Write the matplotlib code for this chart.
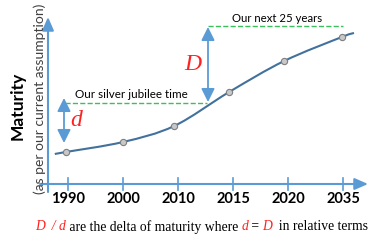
# %% maturity.py
#   sketch of the "maturity over time" slide chart
import numpy as np
import matplotlib.pyplot as plt
from matplotlib.path import Path
from matplotlib.patches import PathPatch

# %% Data (x in tick steps: 1990=0, 2000=1, ...; y in arbitrary maturity units)
years = ["1990", "2000", "2010", "2015", "2020", "2035"]
point_x = [-0.04, 1.0, 1.93, 2.93, 3.93, 4.98]
point_y = [32, 42, 58, 92, 123, 147]
curve_start = (-0.24, 30)
curve_end = (5.2, 151)
jubilee_level = 81
next25_level = 158

BLUE = "#5B9BD5"
LINE = "#41719C"
GREEN = "#3CC05E"
RED = "#FF2020"
SANS = ["Lato", "DejaVu Sans"]
SERIF = ["Liberation Serif", "DejaVu Serif"]


def px(x, y):  # slide pixel -> data coords, only for decorations
    return (x - 68) / 55, 184 - y


def smooth_path(xs, ys):  # catmull-rom through the points, as bezier segments
    p = np.column_stack([xs, ys]).astype(float)
    q = np.vstack([p[0], p, p[-1]])
    verts, codes = [p[0]], [Path.MOVETO]
    for i in range(1, len(q) - 2):
        c1 = q[i] + (q[i + 1] - q[i - 1]) / 6
        c2 = q[i + 1] - (q[i + 2] - q[i]) / 6
        verts += [c1, c2, q[i + 1]]
        codes += [Path.CURVE4] * 3
    return Path(verts, codes)


# %% Figure
fig = plt.figure(figsize=(3.86, 2.44), dpi=100)
ax = fig.add_axes([0, 0, 1, 1])
ax.set_xlim(-68 / 55, 318 / 55)
ax.set_ylim(-60, 184)
ax.axis("off")

# axes with arrow heads
arrow = dict(arrowstyle="-|>,head_length=0.8,head_width=0.35", color=BLUE, lw=1.5,
             shrinkA=0, shrinkB=0, mutation_scale=10)
ax.annotate("", xy=px(368, 184), xytext=px(40, 184), arrowprops=arrow)
ax.annotate("", xy=px(48, 17), xytext=px(48, 192), arrowprops=arrow)

for i, y in enumerate(years):
    ax.plot([i, i], [6, -6], color=BLUE, lw=1.2)
    ax.text(i, -15, y, ha="center", va="center", fontweight="bold", fontsize=10.5, family=SANS)

# curve and markers
xs = [curve_start[0]] + point_x + [curve_end[0]]
ys = [curve_start[1]] + point_y + [curve_end[1]]
ax.add_patch(PathPatch(smooth_path(xs, ys), fc="none", ec=LINE, lw=1.5))
ax.plot(point_x, point_y, "o", ms=4.5, mfc="#C8C8C8", mec="#7F7F7F", mew=0.8)

# dashed reference levels
ax.plot([px(65, 0)[0], px(207, 0)[0]], [jubilee_level] * 2, ls="--", color=GREEN, lw=1)
ax.plot([px(208, 0)[0], px(343, 0)[0]], [next25_level] * 2, ls="--", color=GREEN, lw=1)
ax.text(*px(131, 94), "Our silver jubilee time", ha="center", va="center", fontsize=8.4, family=SANS)
ax.text(*px(277, 18), "Our next 25 years", ha="center", va="center", fontsize=8.2, family=SANS)

# delta arrows
darrow = dict(arrowstyle="<|-|>,head_length=0.8,head_width=0.4", color=BLUE, lw=1.3,
              shrinkA=0, shrinkB=0, mutation_scale=10)
ax.annotate("", xy=px(64, 98), xytext=px(64, 143), arrowprops=darrow)
ax.annotate("", xy=px(208, 27), xytext=px(208, 102), arrowprops=darrow)
ax.text(*px(76, 120), "d", color=RED, fontsize=17, style="italic", family=SERIF, ha="center", va="center")
ax.text(*px(193, 65), "D", color=RED, fontsize=17, style="italic", family=SERIF, ha="center", va="center")

# y label
ax.text(*px(18, 106), "Maturity", rotation=90, ha="center", va="center", fontsize=12.5,
        fontweight="bold", family=SANS)
ax.text(*px(40, 194), "(as per our current assumption)", rotation=90, ha="center", va="bottom",
        fontsize=10, color="#404040", family=SANS)

# caption with mixed colours
pieces = [("D", RED, "italic"), ("  / ", RED, "italic"), ("d", RED, "italic"),
          (" are the delta of maturity where ", "black", "normal"), ("d", RED, "italic"),
          (" = ", "black", "normal"), ("D", RED, "italic"), ("  in relative terms", "black", "normal")]
renderer = fig.canvas.get_renderer()
x0 = 35
for s, c, st in pieces:
    t = fig.text(x0 / 386, 1 - 227 / 244, s, color=c, style=st, fontsize=9.8, family=SERIF,
                 ha="left", va="center")
    x0 += t.get_window_extent(renderer).width

fig.savefig("out.png", dpi=100)
